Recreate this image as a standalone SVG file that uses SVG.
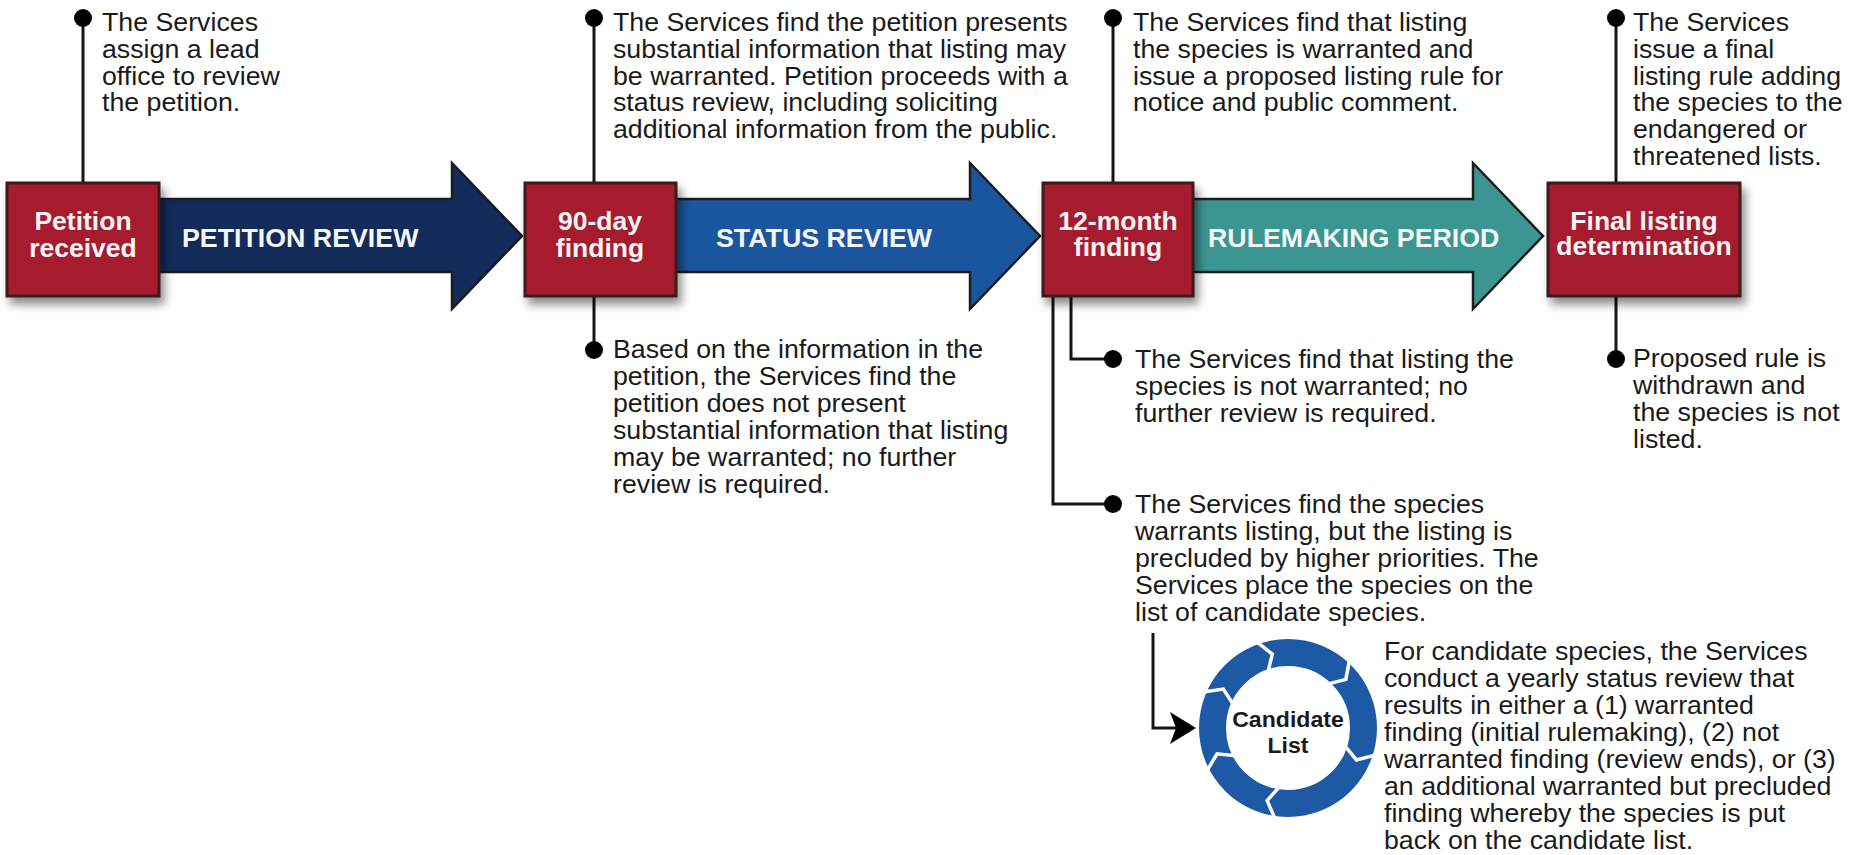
<svg xmlns="http://www.w3.org/2000/svg" xmlns:xlink="http://www.w3.org/1999/xlink" width="1862" height="855" viewBox="0 0 1862 855">
<style>
.t{font-family:"Liberation Sans",Arial,sans-serif;font-size:25px;fill:#1a1a1a}
.bw{font-family:"Liberation Sans",Arial,sans-serif;font-size:26px;font-weight:bold;fill:#f4f4f4;text-anchor:middle}
.al{font-family:"Liberation Sans",Arial,sans-serif;font-size:26px;font-weight:bold;fill:#f4f6f8}
.box{fill:#a61b2f;stroke:#3a1a1a;stroke-width:3;filter:url(#sh)}
.arr{stroke:#1c1c1c;stroke-width:2.5;stroke-linejoin:miter}
.ln{fill:none;stroke:#151515;stroke-width:3}
.dot{fill:#000}
</style>
<defs>
<filter id="sh" x="-20%" y="-20%" width="150%" height="160%">
<feDropShadow dx="4" dy="7" stdDeviation="5" flood-color="#000" flood-opacity="0.45"/>
</filter>
<path id="chev" d="M92,0 L74.8,10.5 L59,0" fill="none" stroke="#ffffff" stroke-width="3.5" stroke-linejoin="miter"/>
</defs>
<rect width="1862" height="855" fill="#ffffff"/>

<g id="connectors">
<line class="ln" x1="83" y1="18" x2="83" y2="183"/>
<circle class="dot" cx="83" cy="18" r="9"/>
<line class="ln" x1="594" y1="18" x2="594" y2="183"/>
<circle class="dot" cx="594" cy="18" r="9"/>
<line class="ln" x1="594" y1="296" x2="594" y2="350"/>
<circle class="dot" cx="594" cy="350" r="9"/>
<line class="ln" x1="1113" y1="18" x2="1113" y2="183"/>
<circle class="dot" cx="1113" cy="18" r="9"/>
<polyline class="ln" points="1071,296 1071,359 1113,359"/>
<circle class="dot" cx="1113" cy="359" r="9"/>
<polyline class="ln" points="1053,296 1053,504 1113,504"/>
<circle class="dot" cx="1113" cy="504" r="9"/>
<line class="ln" x1="1616" y1="18" x2="1616" y2="183"/>
<circle class="dot" cx="1616" cy="18" r="9"/>
<line class="ln" x1="1616" y1="296" x2="1616" y2="359"/>
<circle class="dot" cx="1616" cy="359" r="9"/>
<polyline class="ln" points="1153,633 1153,728 1180,728"/>
<path d="M1196,728 L1170,712 L1176,728 L1170,744 Z" fill="#000"/>
</g>

<g id="arrow-petition-review">
<path class="arr" fill="#122b5a" d="M155,199 L452,199 L452,163 L522,236 L452,309 L452,272 L155,272 Z"/>
<text class="al" transform="translate(182,247) scale(1.03,1)">PETITION REVIEW</text>
</g>
<g id="arrow-status-review">
<path class="arr" fill="#1a559f" d="M672,199 L970,199 L970,163 L1040,236 L970,309 L970,272 L672,272 Z"/>
<text class="al" transform="translate(716,247) scale(1.03,1)">STATUS REVIEW</text>
</g>
<g id="arrow-rulemaking">
<path class="arr" fill="#3b9590" d="M1189,199 L1473,199 L1473,163 L1543,236 L1473,309 L1473,272 L1189,272 Z"/>
<text class="al" transform="translate(1208,247) scale(1.03,1)">RULEMAKING PERIOD</text>
</g>

<g id="node-petition-received">
<rect class="box" x="7" y="183" width="152" height="113"/>
<text class="bw" transform="translate(83,230) scale(1.02,1)"><tspan x="0" y="0">Petition</tspan><tspan x="0" y="27">received</tspan></text>
</g>
<g id="node-90-day">
<rect class="box" x="525" y="183" width="151" height="113"/>
<text class="bw" transform="translate(600,230) scale(1.02,1)"><tspan x="0" y="0">90-day</tspan><tspan x="0" y="27">finding</tspan></text>
</g>
<g id="node-12-month">
<rect class="box" x="1043" y="183" width="150" height="113"/>
<text class="bw" transform="translate(1118,230) scale(1.02,1)"><tspan x="0" y="0">12-month</tspan><tspan x="0" y="26">finding</tspan></text>
</g>
<g id="node-final">
<rect class="box" x="1548" y="183" width="192" height="113"/>
<text class="bw" transform="translate(1644,230) scale(1.02,1)"><tspan x="0" y="0">Final listing</tspan><tspan x="0" y="25">determination</tspan></text>
</g>

<g id="note-lead-office">
<text class="t" transform="translate(102,31) scale(1.07,1)"><tspan x="0" y="0">The Services</tspan><tspan x="0" y="26.8">assign a lead</tspan><tspan x="0" y="53.6">office to review</tspan><tspan x="0" y="80.4">the petition.</tspan></text>
</g>
<g id="note-90-positive">
<text class="t" transform="translate(613,31) scale(1.07,1)"><tspan x="0" y="0">The Services find the petition presents</tspan><tspan x="0" y="26.8">substantial information that listing may</tspan><tspan x="0" y="53.6">be warranted. Petition proceeds with a</tspan><tspan x="0" y="80.4">status review, including soliciting</tspan><tspan x="0" y="107.2">additional information from the public.</tspan></text>
</g>
<g id="note-90-negative">
<text class="t" transform="translate(613,358) scale(1.07,1)"><tspan x="0" y="0">Based on the information in the</tspan><tspan x="0" y="27">petition, the Services find the</tspan><tspan x="0" y="54">petition does not present</tspan><tspan x="0" y="81">substantial information that listing</tspan><tspan x="0" y="108">may be warranted; no further</tspan><tspan x="0" y="135">review is required.</tspan></text>
</g>
<g id="note-12-warranted">
<text class="t" transform="translate(1133,31) scale(1.07,1)"><tspan x="0" y="0">The Services find that listing</tspan><tspan x="0" y="26.8">the species is warranted and</tspan><tspan x="0" y="53.6">issue a proposed listing rule for</tspan><tspan x="0" y="80.4">notice and public comment.</tspan></text>
</g>
<g id="note-12-not-warranted">
<text class="t" transform="translate(1135,368) scale(1.07,1)"><tspan x="0" y="0">The Services find that listing the</tspan><tspan x="0" y="27">species is not warranted; no</tspan><tspan x="0" y="54">further review is required.</tspan></text>
</g>
<g id="note-12-precluded">
<text class="t" transform="translate(1135,513) scale(1.07,1)"><tspan x="0" y="0">The Services find the species</tspan><tspan x="0" y="27">warrants listing, but the listing is</tspan><tspan x="0" y="54">precluded by higher priorities. The</tspan><tspan x="0" y="81">Services place the species on the</tspan><tspan x="0" y="108">list of candidate species.</tspan></text>
</g>
<g id="note-final-listed">
<text class="t" transform="translate(1633,31) scale(1.07,1)"><tspan x="0" y="0">The Services</tspan><tspan x="0" y="26.8">issue a final</tspan><tspan x="0" y="53.6">listing rule adding</tspan><tspan x="0" y="80.4">the species to the</tspan><tspan x="0" y="107.2">endangered or</tspan><tspan x="0" y="134">threatened lists.</tspan></text>
</g>
<g id="note-final-withdrawn">
<text class="t" transform="translate(1633,367) scale(1.07,1)"><tspan x="0" y="0">Proposed rule is</tspan><tspan x="0" y="27">withdrawn and</tspan><tspan x="0" y="54">the species is not</tspan><tspan x="0" y="81">listed.</tspan></text>
</g>

<g id="node-candidate-list">
<circle cx="1288" cy="728" r="75.5" fill="none" stroke="#1d59a4" stroke-width="27"/>
<g transform="translate(1288,728)">
<use xlink:href="#chev" transform="rotate(-157)"/>
<use xlink:href="#chev" transform="rotate(-110)"/>
<use xlink:href="#chev" transform="rotate(-48)"/>
<use xlink:href="#chev" transform="rotate(17)"/>
<use xlink:href="#chev" transform="rotate(98)"/>
<use xlink:href="#chev" transform="rotate(152)"/>
</g>
<text transform="translate(1288,727) scale(1.05,1)" style="font-family:'Liberation Sans',Arial,sans-serif;font-size:22px;font-weight:bold;fill:#1a1a1a;text-anchor:middle"><tspan x="0" y="0">Candidate</tspan><tspan x="0" y="26">List</tspan></text>
</g>
<g id="note-candidate">
<text class="t" transform="translate(1384,660) scale(1.07,1)"><tspan x="0" y="0">For candidate species, the Services</tspan><tspan x="0" y="27">conduct a yearly status review that</tspan><tspan x="0" y="54">results in either a (1) warranted</tspan><tspan x="0" y="81">finding (initial rulemaking), (2) not</tspan><tspan x="0" y="108">warranted finding (review ends), or (3)</tspan><tspan x="0" y="135">an additional warranted but precluded</tspan><tspan x="0" y="162">finding whereby the species is put</tspan><tspan x="0" y="189">back on the candidate list.</tspan></text>
</g>
</svg>
